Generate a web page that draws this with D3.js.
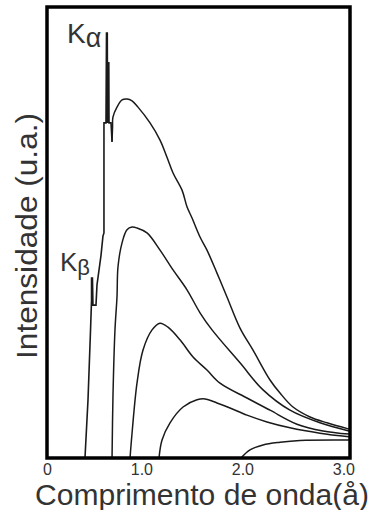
<!DOCTYPE html>
<html><head><meta charset="utf-8">
<script src="https://cdn.jsdelivr.net/npm/d3@7"></script>
<style>html,body{margin:0;padding:0;background:#fff;}svg{display:block;}</style>
</head><body>
<svg id="c" width="371" height="510"></svg>
<script>
// Wavelength (Å) and intensity (a.u., 0-100)
const xTicks = [0, 1, 2, 3];
const xTickLabels = ["0", "1.0", "2.0", "3.0"];
const xTitle = "Comprimento de onda(å)";
const yTitle = "Intensidade (u.a.)";

// Curve with characteristic lines (spike part, drawn straight)
const spikeLambda = [0.376,0.406,0.431,0.441,0.441,0.450,0.455,0.485,0.495,0.535,0.554,0.564,0.564,0.584,0.589,0.597,0.599,0.604,0.612,0.614,0.634,0.644];
const spikeIntensity = [0,12.9,28.4,35.0,39.9,39.9,33.9,33.9,38.4,45.0,49.2,49.9,74.3,74.3,94.2,94.2,74.3,87.6,87.6,74.3,74.3,70.1];
// Continuum of the top curve
const aLambda = [0.644,0.649,0.653,0.693,0.743,0.792,0.842,0.901,1.020,1.119,1.188,1.248,1.337,1.386,1.436,1.515,1.584,1.683,1.782,1.911,2.040,2.208,2.307,2.436,2.604,2.772,2.99];
const aIntensity = [70.1,73.4,75.6,77.8,79.4,79.6,79.2,77.8,74.3,70.5,66.7,63.2,59.4,55.7,53.2,49.0,46.1,41.0,35.7,28.8,23.9,17.3,14.4,11.3,9.1,7.8,6.4];
const bLambda = [0.644,0.653,0.673,0.693,0.703,0.743,0.792,0.842,0.891,0.990,1.119,1.248,1.386,1.515,1.634,1.911,2.139,2.406,2.703,2.99];
const bIntensity = [0,13.5,28.4,35.7,42.4,47.7,50.6,51.2,51.0,49.9,46.1,41.7,37.3,32.2,28.4,21.1,15.1,10.6,7.8,6.0];
const cLambda = [0.822,0.842,0.891,0.950,1.040,1.119,1.198,1.317,1.446,1.584,1.713,1.980,2.208,2.475,2.733,2.99];
const cIntensity = [0,5.5,16.6,23.9,28.4,29.9,29.0,26.2,22.4,19.5,16.6,13.3,10.6,7.5,6.0,5.3];
const dLambda = [1.109,1.139,1.218,1.347,1.485,1.564,1.683,1.812,1.980,2.178,2.406,2.703,2.99];
const dIntensity = [0,4.0,7.8,11.3,12.9,13.1,12.2,11.1,9.5,8.0,6.7,5.5,4.7];
const eLambda = [1.921,2.010,2.139,2.307,2.505,2.99];
const eIntensity = [0,1.8,2.9,3.5,3.9,4.0];

const svg = d3.select("#c");
const x = d3.scaleLinear().domain([0, 3]).range([47, 350]);
const y = d3.scaleLinear().domain([0, 100]).range([458, 7]);
const FONT = "Liberation Sans, Arial, sans-serif";
const TXT = "#333";

svg.append("defs").append("clipPath").attr("id","clip")
  .append("rect").attr("x", x(0)).attr("y", y(100)).attr("width", x(3)-x(0)).attr("height", y(0)-y(100));

const g = svg.append("g").attr("clip-path","url(#clip)");
const zip = (a,b) => a.map((v,i)=>[v,b[i]]);
const linePlain = d3.line().x(d=>x(d[0])).y(d=>y(d[1])).curve(d3.curveLinear);
const lineSmooth = d3.line().x(d=>x(d[0])).y(d=>y(d[1])).curve(d3.curveCatmullRom.alpha(0.5));

g.append("path").attr("d", linePlain(zip(spikeLambda, spikeIntensity)))
  .attr("fill","none").attr("stroke","#1a1a1a").attr("stroke-width",1.6).attr("stroke-linejoin","miter");
[[aLambda,aIntensity],[bLambda,bIntensity],[cLambda,cIntensity],[dLambda,dIntensity],[eLambda,eIntensity]].forEach(([l,v])=>{
  g.append("path").attr("d", lineSmooth(zip(l,v)))
    .attr("fill","none").attr("stroke","#1a1a1a").attr("stroke-width",1.5);
});

// frame
svg.append("rect").attr("x", x(0)).attr("y", y(100)).attr("width", x(3)-x(0)).attr("height", y(0)-y(100))
  .attr("fill","none").attr("stroke","#000").attr("stroke-width",3.5);

// tick labels
svg.append("g").selectAll("text").data(xTicks).join("text")
  .attr("x", d=>x(d)+5).attr("y", 475).attr("text-anchor","end")
  .attr("font-family",FONT).attr("font-size",16).attr("fill",TXT)
  .text((d,i)=>xTickLabels[i]);

svg.append("text").attr("x", 35).attr("y", 505)
  .attr("font-family",FONT).attr("font-size",29).attr("fill",TXT)
  .attr("textLength", 334).attr("lengthAdjust","spacingAndGlyphs")
  .text(xTitle);

svg.append("text").attr("transform","translate(37,236) rotate(-90)").attr("text-anchor","middle")
  .attr("font-family",FONT).attr("font-size",30).attr("fill",TXT)
  .attr("textLength", 246).attr("lengthAdjust","spacingAndGlyphs")
  .text(yTitle);

// K labels
const ka = svg.append("text").attr("x", 67).attr("y", 43)
  .attr("font-family",FONT).attr("font-size",28).attr("fill",TXT);
ka.append("tspan").text("K");
ka.append("tspan").attr("font-size",27).attr("dy",4).text("α");
const kb = svg.append("text").attr("x", 60).attr("y", 271)
  .attr("font-family",FONT).attr("font-size",26).attr("fill",TXT);
kb.append("tspan").text("K");
kb.append("tspan").attr("font-size",22).attr("dy",4).text("β");
</script>
</body></html>
